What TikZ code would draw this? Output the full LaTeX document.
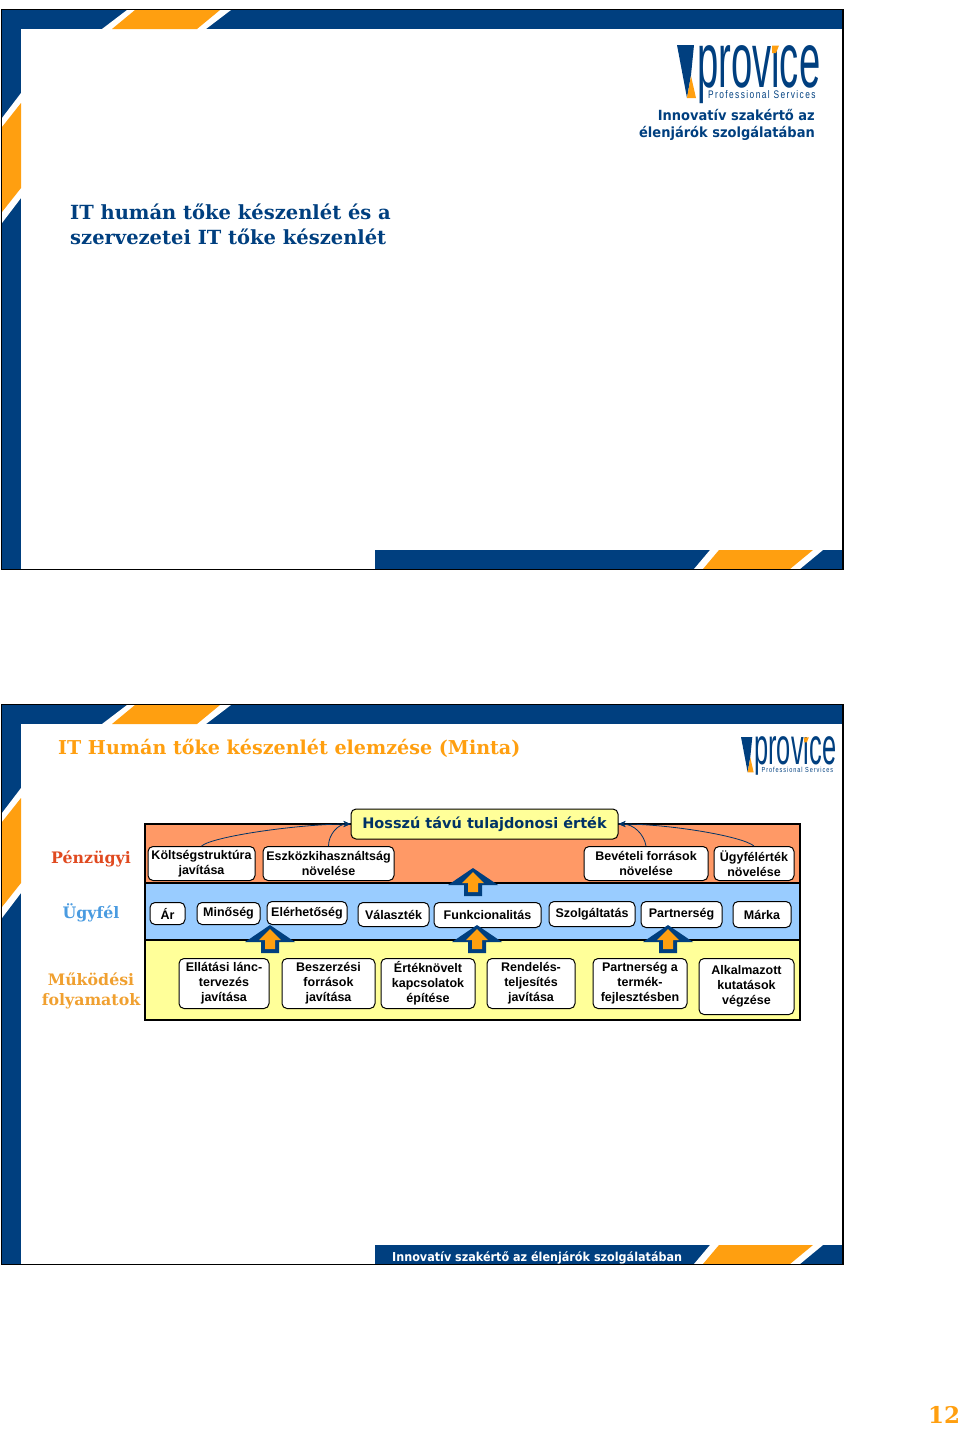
\documentclass[tikz,border=0pt]{standalone}
\usepackage{fontspec}
\usetikzlibrary{arrows.meta}
\setmainfont{Liberation Sans}
\newfontfamily\titlefont{DejaVu Serif}
\newfontfamily\verdanafont{DejaVu Sans}
\definecolor{provblue}{HTML}{003F7F}
\definecolor{provgold}{HTML}{FF9F10}
\definecolor{headblue}{HTML}{003366}
\definecolor{finorange}{HTML}{FF9966}
\definecolor{custblue}{HTML}{99CCFF}
\definecolor{opsyellow}{HTML}{FFFF99}
\definecolor{finred}{HTML}{E04A20}
\definecolor{custtext}{HTML}{4A9BE0}
\definecolor{opstext}{HTML}{F0A030}
\tikzset{
  kpibox/.style={draw, rounded corners=5pt, fill=white, line width=1pt, align=center, inner sep=0pt, yshift=-.5pt,
    font=\fontsize{12.5}{15}\selectfont\bfseries},
  sidelabel/.style={align=center, inner sep=0pt, font=\fontsize{15.8}{20}\selectfont\titlefont\bfseries},
  link/.style={draw=headblue, line width=.8pt, -{Stealth[length=7pt,width=6pt]}},
  logo/.pic={
    \fill[provblue] (0,0) -- (17,0) -- (14,30) -- (10,53) -- cycle;
    \fill[provgold] (14,31) -- (19,53) -- (10,53) -- cycle;
    \node[anchor=base west, inner sep=0pt, text depth=0pt, text=provblue, xscale=.49, transform shape, font=\fontsize{78}{78}\selectfont] (word) at (20,42) {provice};
    \fill[white] (90,-16) rectangle (106,.5);
    \fill[provgold] (95,.5) -- (102,.5) -- (99,8) -- (95,8) -- cycle;
    \node[anchor=base west, inner sep=0pt, text=provblue, xscale=.76, transform shape, font=\fontsize{11}{11}\selectfont\addfontfeature{LetterSpace=17}] (tag) at (31,53) {Professional Services};
  },
  liftarrow/.pic={
    \fill[provblue] (0,0) -- (25,17) -- (9,17) -- (9,28) -- (-9,28) -- (-9,17) -- (-25,17) -- cycle;
    \fill[provgold] (0,4) -- (11,15) -- (5,15) -- (5,24) -- (-5,24) -- (-5,15) -- (-11,15) -- cycle;
  }
}
\begin{document}
\begin{tikzpicture}[x=1pt,y=-1pt]
\useasboundingbox (0,0) rectangle (960,1432);
% slide frames
\foreach \slideY in {0,695}{
\begin{scope}[shift={(0,\slideY)}]
\fill[provblue] (2,10) rectangle (842,29);
\fill[provblue] (2,10) rectangle (21,569);
\fill[provblue] (375,550) rectangle (842,569);
\fill[white] (127,10) -- (231,10) -- (206,29) -- (102,29) -- cycle;
\fill[provgold] (135,10) -- (220,10) -- (197,29) -- (112,29) -- cycle;
\fill[white] (21,93) -- (21,198) -- (2,223) -- (2,118) -- cycle;
\fill[provgold] (21,103) -- (21,188) -- (2,212) -- (2,127) -- cycle;
\fill[white] (710,550) -- (823,550) -- (800,569) -- (694,569) -- cycle;
\fill[provgold] (719,550) -- (813,550) -- (790,569) -- (703,569) -- cycle;
\draw[line width=1.5pt] (1.5,9.5) rectangle (843,569.5);
\end{scope}
}
% first slide
\pic at (677,45) {logo};
\node[anchor=east, inner sep=0pt, align=right, text=provblue, xscale=.93, transform shape, font=\fontsize{14}{17.5}\selectfont\verdanafont\bfseries] (motto) at (815,125) {Innovatív szakértő az\\élenjárók szolgálatában};
\node[anchor=west, inner sep=0pt, align=left, text=provblue, font=\fontsize{19.5}{25}\selectfont\titlefont\bfseries] (title) at (70,224) {IT humán tőke készenlét és a\\szervezetei IT tőke készenlét};
% second slide
\pic[scale=.665, transform shape] at (741,737) {logo};
\node[anchor=west, inner sep=0pt, text=provgold, font=\fontsize{19.1}{25}\selectfont\titlefont\bfseries] (title2) at (58,748.5) {IT Humán tőke készenlét elemzése (Minta)};
\node[anchor=west, inner sep=0pt, text=white, xscale=.91, transform shape, font=\fontsize{12.3}{16}\selectfont\verdanafont\bfseries] (foot) at (392,1257.5) {Innovatív szakértő az élenjárók szolgálatában};
\node[inner sep=0pt, text=provgold, font=\fontsize{23}{23}\selectfont\titlefont\bfseries] (pageno) at (944,1415) {12};
% panels
\draw[line width=2pt, fill=finorange] (144.5,823.5) rectangle (800,883);
\draw[line width=2pt, fill=custblue] (144.5,883) rectangle (800,940);
\draw[line width=2pt, fill=opsyellow] (144.5,940) rectangle (800,1020);
\node[sidelabel, text=finred] (fin) at (91,859) {Pénzügyi};
\node[sidelabel, text=custtext] (cust) at (91,913) {Ügyfél};
\node[sidelabel, text=opstext] (ops) at (91,991) {Működési\\folyamatok};
% top box
\node[kpibox, fill=opsyellow, minimum width=267pt, minimum height=30pt, text=headblue, font=\fontsize{14.5}{18}\selectfont\verdanafont\bfseries] (value) at (484.5,823.5) {Hosszú távú tulajdonosi érték};
% financial row
\node[kpibox, minimum width=107pt, minimum height=34pt] (cost) at (201.5,863) {Költségstruktúra\\javítása};
\node[kpibox, minimum width=131pt, minimum height=34pt] (asset) at (328.5,863) {Eszközkihasználtság\\növelése};
\node[kpibox, minimum width=124pt, minimum height=34pt] (income) at (646,863) {Bevételi források\\növelése};
\node[kpibox, minimum width=80pt, minimum height=34pt] (custval) at (754,863) {Ügyfélérték\\növelése};
% customer row
\node[kpibox, minimum width=35pt, minimum height=22pt] (price) at (167.5,913) {Ár};
\node[kpibox, minimum width=63pt, minimum height=22pt] (quality) at (228.5,913) {Minőség};
\node[kpibox, minimum width=80pt, minimum height=23pt] (access) at (307,912.5) {Elérhetőség};
\node[kpibox, minimum width=71pt, minimum height=24pt] (choice) at (393.5,914) {Választék};
\node[kpibox, minimum width=107pt, minimum height=25pt] (func) at (487.5,914.5) {Funkcionalitás};
\node[kpibox, minimum width=86pt, minimum height=25pt] (service) at (592,913.5) {Szolgáltatás};
\node[kpibox, minimum width=81pt, minimum height=26pt] (partner) at (681.5,914) {Partnerség};
\node[kpibox, minimum width=58pt, minimum height=26pt] (brand) at (762,914) {Márka};
% operations row
\node[kpibox, minimum width=90pt, minimum height=50pt] (supply) at (224,983) {Ellátási lánc-\\tervezés\\javítása};
\node[kpibox, minimum width=93pt, minimum height=50pt] (procure) at (328.5,983) {Beszerzési\\források\\javítása};
\node[kpibox, minimum width=94pt, minimum height=50pt] (relation) at (428,983) {Értéknövelt\\kapcsolatok\\építése};
\node[kpibox, minimum width=88pt, minimum height=50pt] (order) at (531,983) {Rendelés-\\teljesítés\\javítása};
\node[kpibox, minimum width=94pt, minimum height=50pt] (develop) at (640,983) {Partnerség a\\termék-\\fejlesztésben};
\node[kpibox, minimum width=95pt, minimum height=56pt] (research) at (746.5,986) {Alkalmazott\\kutatások\\végzése};
% links to the top box
\draw[link] (cost.north) .. controls +(12,-10) and +(-50,0) .. (value.west);
\draw[link] (asset.north) .. controls +(0,-12) and +(-12,0) .. (value.west);
\draw[link] (income.north) .. controls +(-2,-12) and +(15,0) .. (value.east);
\draw[link] (custval.north) .. controls +(-12,-10) and +(50,0) .. (value.east);
% block arrows
\pic at (473,868) {liftarrow};
\pic at (270,925) {liftarrow};
\pic at (477,925) {liftarrow};
\pic at (668,925) {liftarrow};
\end{tikzpicture}
\end{document}
